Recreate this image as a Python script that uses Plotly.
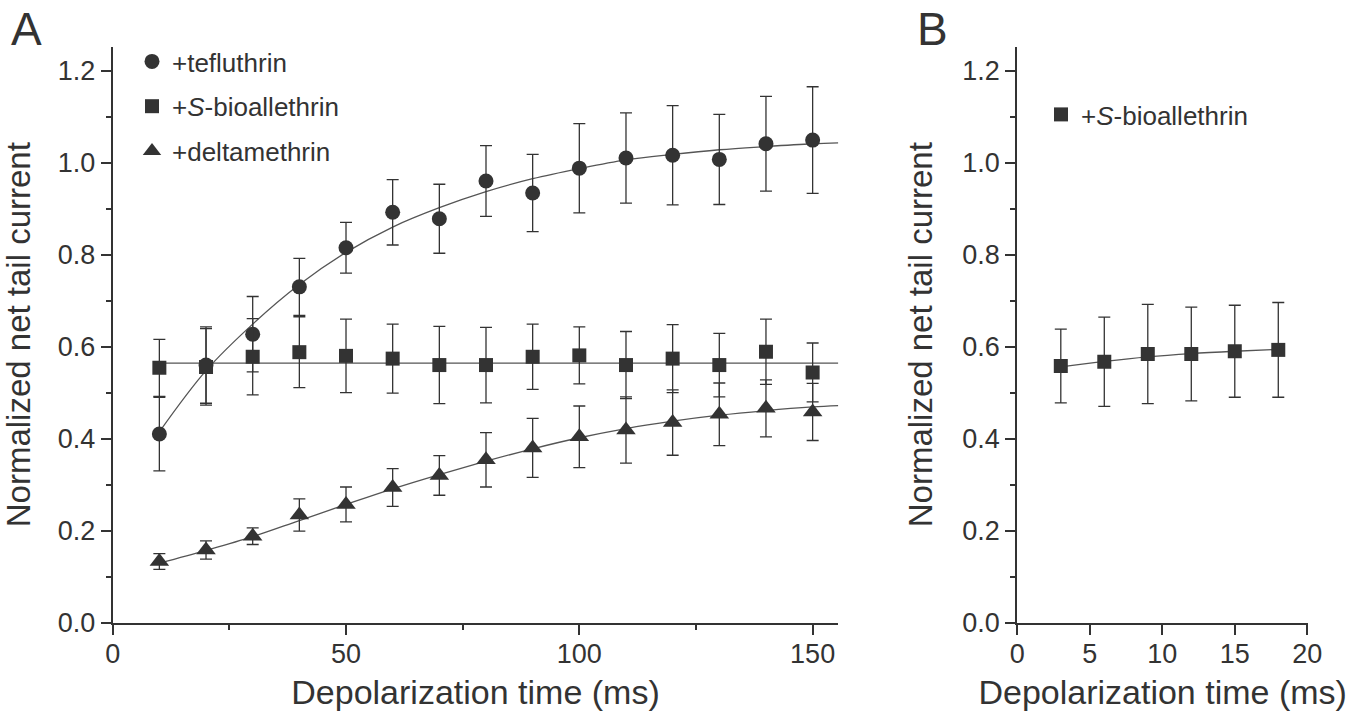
import plotly.graph_objects as go

# ---------------- data ----------------
time_A = [10, 20, 30, 40, 50, 60, 70, 80, 90, 100, 110, 120, 130, 140, 150]

teflu = [0.410, 0.560, 0.627, 0.730, 0.815, 0.892, 0.878, 0.960, 0.934, 0.988,
         1.010, 1.016, 1.007, 1.041, 1.049]
teflu_err = [0.080, 0.083, 0.082, 0.062, 0.055, 0.071, 0.075, 0.077, 0.084, 0.097,
             0.098, 0.108, 0.098, 0.103, 0.116]

sbio = [0.554, 0.556, 0.578, 0.588, 0.580, 0.574, 0.560, 0.560, 0.578, 0.581,
        0.560, 0.574, 0.560, 0.589, 0.544]
sbio_err = [0.062, 0.083, 0.083, 0.077, 0.080, 0.075, 0.084, 0.082, 0.071, 0.062,
            0.073, 0.074, 0.069, 0.071, 0.064]

delta = [0.133, 0.158, 0.188, 0.234, 0.257, 0.294, 0.320, 0.354, 0.380, 0.404,
         0.419, 0.435, 0.453, 0.466, 0.458]
delta_err = [0.017, 0.020, 0.018, 0.035, 0.038, 0.041, 0.043, 0.059, 0.064, 0.067,
             0.072, 0.071, 0.068, 0.062, 0.062]

# fitted curves
fit_x_A = [10, 20, 30, 40, 50, 60, 70, 80, 90, 100, 110, 120, 130, 140, 150, 155.5]
teflu_fit = [0.415, 0.548, 0.649, 0.735, 0.805, 0.860, 0.902, 0.937, 0.965, 0.987,
             1.006, 1.018, 1.028, 1.035, 1.041, 1.043]
delta_fit = [0.129, 0.157, 0.187, 0.222, 0.257, 0.291, 0.322, 0.351, 0.378, 0.402,
             0.422, 0.438, 0.451, 0.461, 0.469, 0.472]
sbio_fit_x = [10, 155.5]
sbio_fit = [0.564, 0.564]

time_B = [3, 6, 9, 12, 15, 18]
sbio_B = [0.558, 0.567, 0.584, 0.584, 0.590, 0.593]
sbio_B_err = [0.080, 0.097, 0.108, 0.102, 0.100, 0.103]
sbio_B_fit = [0.556, 0.568, 0.578, 0.585, 0.590, 0.594]

x_ticks_A = [0, 50, 100, 150]
x_ticks_B = [0, 5, 10, 15, 20]
y_ticks = [0.0, 0.2, 0.4, 0.6, 0.8, 1.0, 1.2]

# ---------------- styling ----------------
FONT = "Liberation Sans, Arial, Helvetica, sans-serif"
INK = "#333333"
CURVE = "#555555"

W, H = 1351, 721

fig = go.Figure()

def err(vals):
    return dict(type="data", array=vals, visible=True, color=INK, thickness=1.3, width=6)

# fit curves (panel A)
for xs, ys in [(fit_x_A, teflu_fit), (sbio_fit_x, sbio_fit), (fit_x_A, delta_fit)]:
    fig.add_trace(go.Scatter(x=xs, y=ys, mode="lines", line=dict(color=CURVE, width=1.3, shape="spline"),
                             showlegend=False, hoverinfo="skip", xaxis="x", yaxis="y"))

fig.add_trace(go.Scatter(x=time_A, y=teflu, mode="markers", name="+tefluthrin",
                         marker=dict(symbol="circle", size=15, color=INK),
                         error_y=err(teflu_err), xaxis="x", yaxis="y",
                         legend="legend", legendgroup="a"))
fig.add_trace(go.Scatter(x=time_A, y=sbio, mode="markers", name="+<i>S</i>-bioallethrin",
                         marker=dict(symbol="square", size=14, color=INK),
                         error_y=err(sbio_err), xaxis="x", yaxis="y",
                         legend="legend", legendgroup="b"))
fig.add_trace(go.Scatter(x=time_A, y=delta, mode="markers", name="+deltamethrin",
                         marker=dict(symbol="triangle-up", size=17, color=INK),
                         error_y=err(delta_err), xaxis="x", yaxis="y",
                         legend="legend", legendgroup="c"))

# panel B
fig.add_trace(go.Scatter(x=time_B, y=sbio_B_fit, mode="lines", line=dict(color=CURVE, width=1.3, shape="spline"),
                         showlegend=False, hoverinfo="skip", xaxis="x2", yaxis="y2"))
fig.add_trace(go.Scatter(x=time_B, y=sbio_B, mode="markers", name="+<i>S</i>-bioallethrin",
                         marker=dict(symbol="square", size=14, color=INK),
                         error_y=err(sbio_B_err), xaxis="x2", yaxis="y2",
                         legend="legend2"))

y_dom = [(H - 622.7) / H, (H - 46.7) / H]

axis_common = dict(showline=True, linewidth=2, linecolor=INK, ticks="outside", ticklen=10,
                   tickwidth=1.5, tickcolor=INK, showgrid=False, zeroline=False, automargin=False,
                   tickfont=dict(family=FONT, size=27, color=INK))

fig.update_layout(
    width=W, height=H,
    margin=dict(l=0, r=0, t=0, b=0, autoexpand=False),
    paper_bgcolor="white", plot_bgcolor="white",
    font=dict(family=FONT, color=INK),
    xaxis=dict(domain=[112.7 / W, 838.3 / W], range=[0, 155.5], tickvals=x_ticks_A,
               ticktext=[str(v) for v in x_ticks_A], ticklabelstandoff=-4,
               minor=dict(dtick=25, tick0=0, ticklen=5, tickwidth=1.5, tickcolor=INK, ticks="outside"),
               title=dict(text="Depolarization time (ms)", font=dict(family=FONT, size=34, color=INK), standoff=12),
               anchor="y", **axis_common),
    yaxis=dict(domain=y_dom, range=[0, 1.252], tickvals=y_ticks,
               ticktext=[f"{v:.1f}" for v in y_ticks],
               minor=dict(dtick=0.1, tick0=0, ticklen=5, tickwidth=1.5, tickcolor=INK, ticks="outside"),
               title=dict(text="Normalized net tail current", font=dict(family=FONT, size=33, color=INK), standoff=20),
               anchor="x", **axis_common),
    xaxis2=dict(domain=[1017.3 / W, 1308.0 / W], range=[0, 20.05], tickvals=x_ticks_B,
                ticktext=[str(v) for v in x_ticks_B], ticklabelstandoff=-4,
                title=dict(text="Depolarization time (ms)", font=dict(family=FONT, size=34, color=INK), standoff=12),
                anchor="y2", **axis_common),
    yaxis2=dict(domain=y_dom, range=[0, 1.252], tickvals=y_ticks,
                ticktext=[f"{v:.1f}" for v in y_ticks],
                minor=dict(dtick=0.1, tick0=0, ticklen=5, tickwidth=1.5, tickcolor=INK, ticks="outside"),
                title=dict(text="Normalized net tail current", font=dict(family=FONT, size=33, color=INK), standoff=20),
                anchor="x2", **axis_common),
    legend=dict(x=132 / W, y=1 - 38 / H, xanchor="left", yanchor="top",
                font=dict(family=FONT, size=26, color=INK), bgcolor="rgba(0,0,0,0)",
                traceorder="grouped", tracegroupgap=8, itemclick=False),
    legend2=dict(x=(1060 - 19) / W, y=1 - 91 / H, xanchor="left", yanchor="top",
                 font=dict(family=FONT, size=26, color=INK), bgcolor="rgba(0,0,0,0)"),
    annotations=[
        dict(text="A", x=9 / W, y=1 - 1 / H, xref="paper", yref="paper", showarrow=False,
             xanchor="left", yanchor="top", font=dict(family=FONT, size=46, color=INK)),
        dict(text="B", x=933 / W, y=1 - 1 / H, xref="paper", yref="paper", showarrow=False,
             xanchor="center", yanchor="top", font=dict(family=FONT, size=46, color=INK)),
    ],
)

fig.write_html("out.html", config={"displayModeBar": False},
               post_script="document.body.style.margin='0';")
